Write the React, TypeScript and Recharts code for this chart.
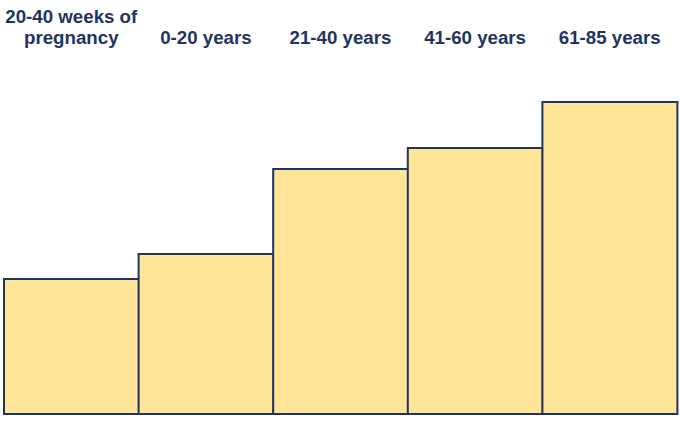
import React from 'react';
import { BarChart, Bar, XAxis, YAxis } from 'recharts';

const categories = ['20-40 weeks of|pregnancy', '0-20 years', '21-40 years', '41-60 years', '61-85 years'];
const values = [135, 160, 245, 266, 312];

const data = categories.map((c, i) => ({ name: c, value: values[i] }));

const NAVY = '#1F3460';
const FS = 18.7;

const Tick = (props: any) => {
  const { x, y, payload } = props;
  const lines = String(payload.value).split('|');
  const baseY = y - 50;
  return (
    <g>
      {lines.length === 2 ? (
        <>
          <text x={x} y={baseY - 21} textAnchor="middle" fill={NAVY} fontSize={FS} fontWeight="bold" fontFamily="Liberation Sans, Arial, sans-serif">{lines[0]}</text>
          <text x={x} y={baseY} textAnchor="middle" fill={NAVY} fontSize={FS} fontWeight="bold" fontFamily="Liberation Sans, Arial, sans-serif">{lines[1]}</text>
        </>
      ) : (
        <text x={x} y={baseY} textAnchor="middle" fill={NAVY} fontSize={FS} fontWeight="bold" fontFamily="Liberation Sans, Arial, sans-serif">{lines[0]}</text>
      )}
    </g>
  );
};

export default function App() {
  return (
    <div style={{ position: 'absolute', left: 0, top: 0, width: 680, height: 425, background: '#fff' }}>
      <BarChart width={680} height={425} data={data} margin={{ top: 2, right: 3, bottom: 11, left: 4 }} barCategoryGap={0}>
        <XAxis dataKey="name" orientation="top" axisLine={false} tickLine={false} tick={<Tick />} height={100} interval={0} />
        <YAxis hide domain={[0, 312]} />
        <Bar dataKey="value" fill="#FFE598" stroke={NAVY} strokeWidth={2} isAnimationActive={false} />
      </BarChart>
    </div>
  );
}
